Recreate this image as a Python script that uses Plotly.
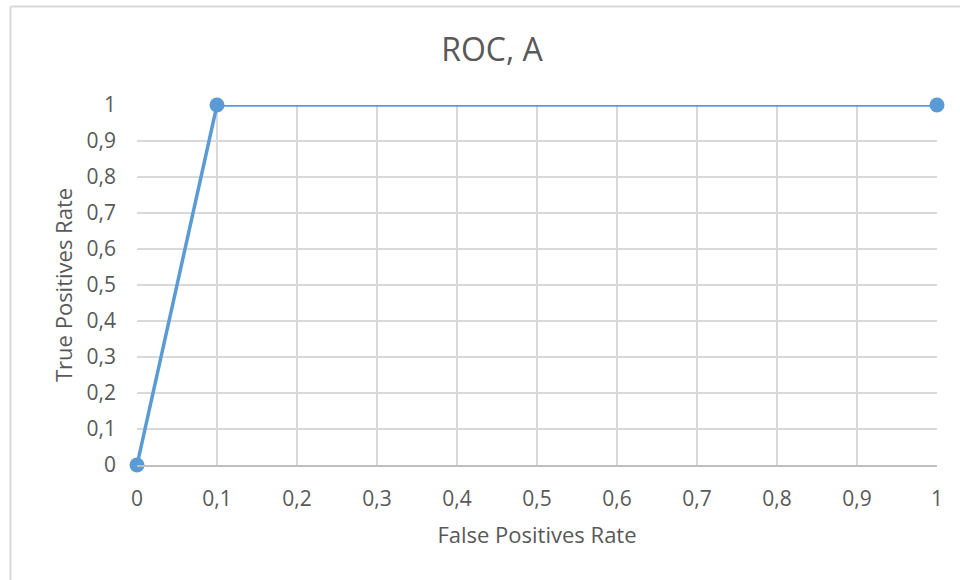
import plotly.graph_objects as go

fpr = [0, 0.1, 1]
tpr = [0, 1, 1]
title = "ROC, A"
x_title = "False Positives Rate"
y_title = "True Positives Rate"

tickvals = [i / 10 for i in range(11)]
ticktext = ["0"] + ["0," + str(i) for i in range(1, 10)] + ["1"]

fig = go.Figure()
fig.add_trace(go.Scatter(
    x=fpr, y=tpr, mode="lines+markers",
    line=dict(color="#5b9bd5", width=3.5),
    marker=dict(color="#5b9bd5", size=15),
    cliponaxis=False, showlegend=False,
))

font = "Open Sans"
L, R, T, B = 137, 23, 105, 115
pw, ph = 960 - L - R, 580 - T - B
bx = (10.5 - L) / pw
by = 1 + (T - 6.5) / ph
fig.update_layout(
    width=960, height=580,
    margin=dict(l=L, r=R, t=T, b=B),
    paper_bgcolor="white", plot_bgcolor="white",
    font=dict(family=font, color="#595959", size=21),
    title=dict(text=title, x=492/960, xanchor="center", y=1 - 50/580, yanchor="middle",
               font=dict(size=32, color="#595959", family=font)),
    shapes=[
        dict(type="line", xref="paper", yref="paper", x0=bx, x1=1.2,
             y0=by, y1=by, line=dict(color="#d9d9d9", width=2)),
        dict(type="line", xref="paper", yref="paper", x0=bx, x1=bx,
             y0=by, y1=-0.5, line=dict(color="#d9d9d9", width=2)),
    ],
    annotations=[
        dict(text=y_title, xref="paper", yref="paper", x=(63 - L) / pw, y=(465 - 285) / ph,
             xanchor="center", yanchor="middle", textangle=-90, showarrow=False,
             font=dict(size=22, color="#595959", family=font)),
    ],
)
fig.update_xaxes(
    range=[0, 1], tickvals=tickvals, ticktext=ticktext,
    showgrid=True, gridcolor="#d9d9d9", gridwidth=2,
    showline=True, linecolor="#bfbfbf", linewidth=2,
    zeroline=False, ticks="", ticklabelstandoff=14,
    title=dict(text=x_title, font=dict(size=22, color="#595959"), standoff=16),
)
fig.update_yaxes(
    range=[0, 1], tickvals=tickvals, ticktext=ticktext,
    showgrid=True, gridcolor="#d9d9d9", gridwidth=2,
    zeroline=False, ticks="", ticklabelstandoff=20,
)
fig.write_html("out.html", post_script="document.body.style.margin='0';",
               config={"displayModeBar": False})
